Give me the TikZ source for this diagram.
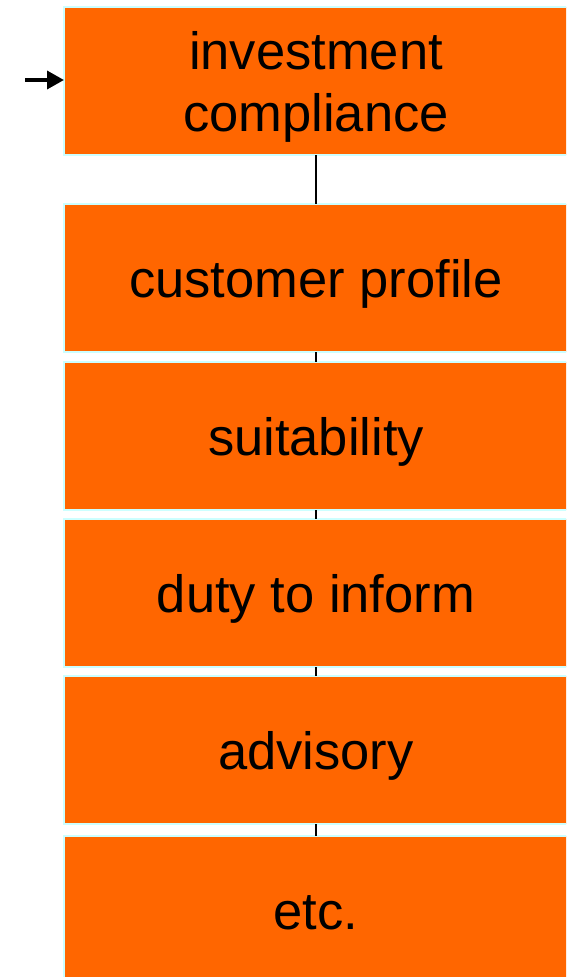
\documentclass[tikz,border=0pt]{standalone}
\usepackage{fontspec}
\setmainfont{Liberation Sans}
\usetikzlibrary{arrows.meta}
\definecolor{boxfill}{HTML}{FF6600}
\definecolor{boxline}{HTML}{CCFFFF}
\begin{document}
\begin{tikzpicture}[x=1pt,y=-1pt,
  stagebox/.style={rectangle, fill=boxfill, draw=boxline, line width=2pt,
    minimum width=504pt, minimum height=148pt, inner sep=0pt, outer sep=0pt,
    align=center, font=\fontsize{52.5}{62}\selectfont, text=black,
    text height=38pt, text depth=0pt},
  link/.style={draw=black, line width=2pt}]
\useasboundingbox (0,0) rectangle (566,977);
\clip (0,0) rectangle (566,977);
\node[stagebox, text height=100pt] (b1) at (316,81) {investment\\compliance};
\node[stagebox] (b2) at (316,278) {customer profile};
\node[stagebox] (b3) at (316,436) {suitability};
\node[stagebox] (b4) at (316,593) {duty to inform};
\node[stagebox] (b5) at (316,750) {advisory};
\node[stagebox] (b6) at (316,910) {etc.};
\coordinate (in) at (25,80);
\draw[line width=3.5pt, -{Triangle[length=17pt,width=18pt]}] (in) -- (b1.west |- in);
\draw[link] (b1.south) -- (b2.north);
\draw[link] (b2.south) -- (b3.north);
\draw[link] (b3.south) -- (b4.north);
\draw[link] (b4.south) -- (b5.north);
\draw[link] (b5.south) -- (b6.north);
\end{tikzpicture}
\end{document}
